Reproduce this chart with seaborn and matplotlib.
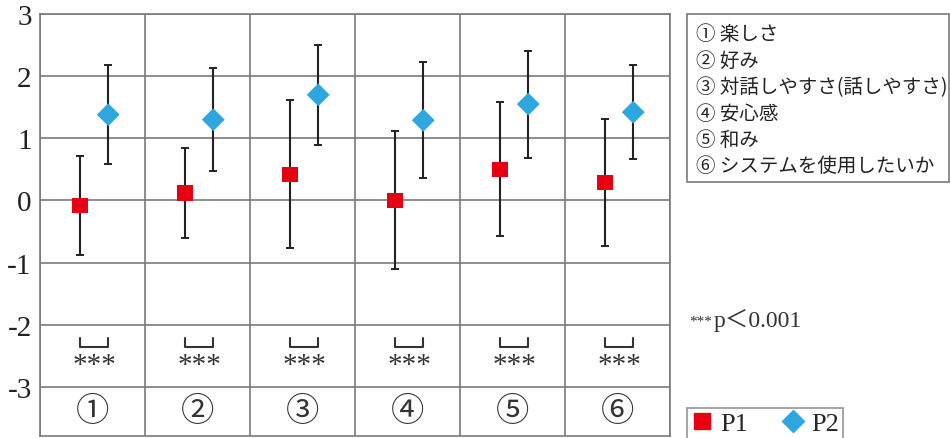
import numpy as np
import pandas as pd
import matplotlib
matplotlib.use("Agg")
import matplotlib.pyplot as plt
import seaborn as sns
from matplotlib.patches import Rectangle
from matplotlib.lines import Line2D

# ===================== データ =====================
item_marks = ["①", "②", "③", "④", "⑤", "⑥"]
item_names = ["楽しさ", "好み", "対話しやすさ(話しやすさ)", "安心感", "和み", "システムを使用したいか"]
p1_mean = [-0.08, 0.12, 0.42, 0.00, 0.50, 0.29]
p1_sd = [0.80, 0.72, 1.19, 1.11, 1.08, 1.02]
p2_mean = [1.38, 1.30, 1.70, 1.29, 1.55, 1.42]
p2_sd = [0.80, 0.83, 0.80, 0.93, 0.86, 0.76]
sig_marks = ["***", "***", "***", "***", "***", "***"]
y_ticks = [3, 2, 1, 0, -1, -2, -3]

# ===================== 全体設定 =====================
sns.set_theme(style="white")
plt.rcParams['font.family'] = ['Noto Sans CJK JP', 'DejaVu Sans']
serif = ['Liberation Serif', 'DejaVu Serif', 'Noto Sans CJK JP']

red = "#e60012"
blue = "#2ea7e0"
grid_c = "#7a7a7a"

n = len(item_marks)
x = np.arange(n)
off1, off2 = -0.12, 0.15

df = pd.DataFrame({
    "x": np.concatenate([x + off1, x + off2]),
    "y": p1_mean + p2_mean,
    "sd": p1_sd + p2_sd,
    "group": ["P1"] * n + ["P2"] * n,
})

fig = plt.figure(figsize=(9.5, 4.39), dpi=100)
ax = fig.add_axes([40 / 950, 1 - 437 / 439, 630 / 950, 422 / 439])

# 誤差棒
for g in ["P1", "P2"]:
    d = df[df.group == g]
    ax.errorbar(d.x, d.y, yerr=d.sd, fmt="none", ecolor="#222222",
                elinewidth=1.5, capsize=3, capthick=1.4, zorder=3)

# 平均値
sns.scatterplot(data=df[df.group == "P1"], x="x", y="y", marker="s",
                color=red, s=121, edgecolor="none", linewidth=0,
                legend=False, ax=ax, zorder=4)
sns.scatterplot(data=df[df.group == "P2"], x="x", y="y", marker="D",
                color=blue, s=135, edgecolor="none", linewidth=0,
                legend=False, ax=ax, zorder=4)

ax.set_xlim(-0.5, n - 0.5)
ax.set_ylim(-3.79, 3)

# 格子
for yv in y_ticks:
    ax.axhline(yv, color=grid_c, lw=1.2, zorder=1)
for xv in np.arange(-0.5, n, 1.0):
    ax.axvline(xv, color=grid_c, lw=1.2, zorder=1)
for s in ax.spines.values():
    s.set_color(grid_c)
    s.set_linewidth(1.2)

ax.set_xticks([])
ax.set_yticks(y_ticks)
ax.set_yticklabels([str(v) for v in y_ticks])
for lbl in ax.get_yticklabels():
    lbl.set_fontfamily(serif)
    lbl.set_fontsize(21)
    lbl.set_color("#222222")
ax.tick_params(axis="y", length=0, pad=6)
ax.set_xlabel("")
ax.set_ylabel("")

# 有意差の括弧と項目番号
for i in range(n):
    xa, xb = x[i] + off1, x[i] + off2
    ax.plot([xa, xa, xb, xb], [-2.22, -2.35, -2.35, -2.22],
            color="#333333", lw=1.5, zorder=3)
    ax.text(x[i] + (off1 + off2) / 2, -2.64, sig_marks[i], ha="center",
            va="center", fontsize=21, family=serif, color="#333333")
    ax.text(x[i], -3.40, item_marks[i], ha="center", va="center",
            fontsize=24, family=serif, color="#333333")

# 項目の凡例ボックス
fig.patches.append(Rectangle((687 / 950, 1 - 183 / 439), 262 / 950, 168 / 439,
                             transform=fig.transFigure, fill=False,
                             edgecolor=grid_c, lw=1.2))
for k, (m, name) in enumerate(zip(item_marks, item_names)):
    fig.text(696 / 950, 1 - (35 + k * 26.4) / 439, f"{m} {name}",
             ha="left", va="center", fontsize=14, color="#222222")

fig.text(689 / 950, 1 - 322 / 439, "***", fontsize=11, family=serif,
         color="#333333", ha="left", va="center")
fig.text(714 / 950, 1 - 320 / 439, "p＜0.001", fontsize=17, family=serif,
         color="#333333", ha="left", va="center")

# P1/P2 凡例
handles = [Line2D([], [], ls="none", marker="s", ms=11, color=red, label="P1"),
           Line2D([], [], ls="none", marker="D", ms=11.5, color=blue, label="P2")]
leg = fig.legend(handles=handles, loc="lower left",
                 bbox_to_anchor=(687 / 950, 1 - 440 / 439), ncol=2,
                 prop={"family": serif, "size": 19}, frameon=True,
                 fancybox=False, edgecolor=grid_c, handlelength=0.8,
                 handletextpad=0.3, columnspacing=1.3, borderpad=0.15,
                 borderaxespad=0)
leg.get_frame().set_linewidth(1.2)

fig.savefig("out.png", dpi=100)
